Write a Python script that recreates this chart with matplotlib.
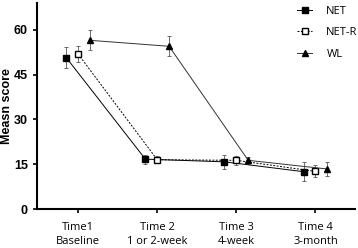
import matplotlib
matplotlib.use("Agg")
import matplotlib.pyplot as plt
import numpy as np

categories = ["Time1\nBaseline", "Time 2\n1 or 2-week", "Time 3\n4-week", "Time 4\n3-month"]
net = [50.7, 16.7, 15.8, 12.5]
net_err = [3.4, 1.5, 2.3, 3.2]
netr = [51.9, 16.5, 16.3, 12.6]
netr_err = [2.8, 1.2, 1.5, 2.0]
wl = [56.5, 54.5, 16.3, 13.4]
wl_err = [3.4, 3.3, 1.2, 2.4]

fig = plt.figure(figsize=(3.58, 2.48), dpi=100)
ax = fig.add_axes([37/358, 39/248, 318/358, 206/248])

x = np.arange(len(categories))
common = dict(markersize=5, linewidth=0.7, elinewidth=0.6, capsize=1.5, capthick=0.6, ecolor="#555555")
c1 = ax.errorbar(x - 0.15, net, yerr=net_err, marker="s", linestyle="-", color="black",
                 markerfacecolor="black", label="NET", **common)
c2 = ax.errorbar(x, netr, yerr=netr_err, marker="s", linestyle=(0, (2, 1.5)), color="black",
                 markerfacecolor="white", label="NET-R", **common)
c3 = ax.errorbar(x + 0.15, wl, yerr=wl_err, marker="^", linestyle="-", color="#333333",
                 markerfacecolor="black", markeredgecolor="black", label="WL", **common)

ax.set_xlim(-0.52, 3.5)
ax.set_ylim(0, 69)
ax.set_yticks([0, 15, 30, 45, 60])
ax.set_xticks(x)
ax.set_xticklabels(categories, fontfamily="Open Sans", fontsize=8, linespacing=1.4)
for lab in ax.get_yticklabels():
    lab.set_fontfamily("Liberation Sans")
    lab.set_fontweight("bold")
    lab.set_fontsize(9)
ax.set_ylabel("Measn score", fontfamily="Liberation Sans", fontweight="bold", fontsize=9)
ax.yaxis.set_label_coords(-0.077, 0.5)
for s in ["top", "right"]:
    ax.spines[s].set_visible(False)
for s in ["left", "bottom"]:
    ax.spines[s].set_linewidth(1.5)
ax.tick_params(axis="both", width=1.2, length=3, direction="out")
ax.tick_params(axis="x", pad=6)

handles = [c[0] for c in (c1, c2, c3)]
labels = ["NET", "NET-R", "WL"]
leg = ax.legend(handles, labels, loc="upper right", bbox_to_anchor=(1.04, 1.035), frameon=False,
                handlelength=1.3, prop={"family": "Open Sans", "size": 8}, labelspacing=0.95,
                handletextpad=1.3, markerscale=0.8)

fig.savefig("out.png", dpi=100)
